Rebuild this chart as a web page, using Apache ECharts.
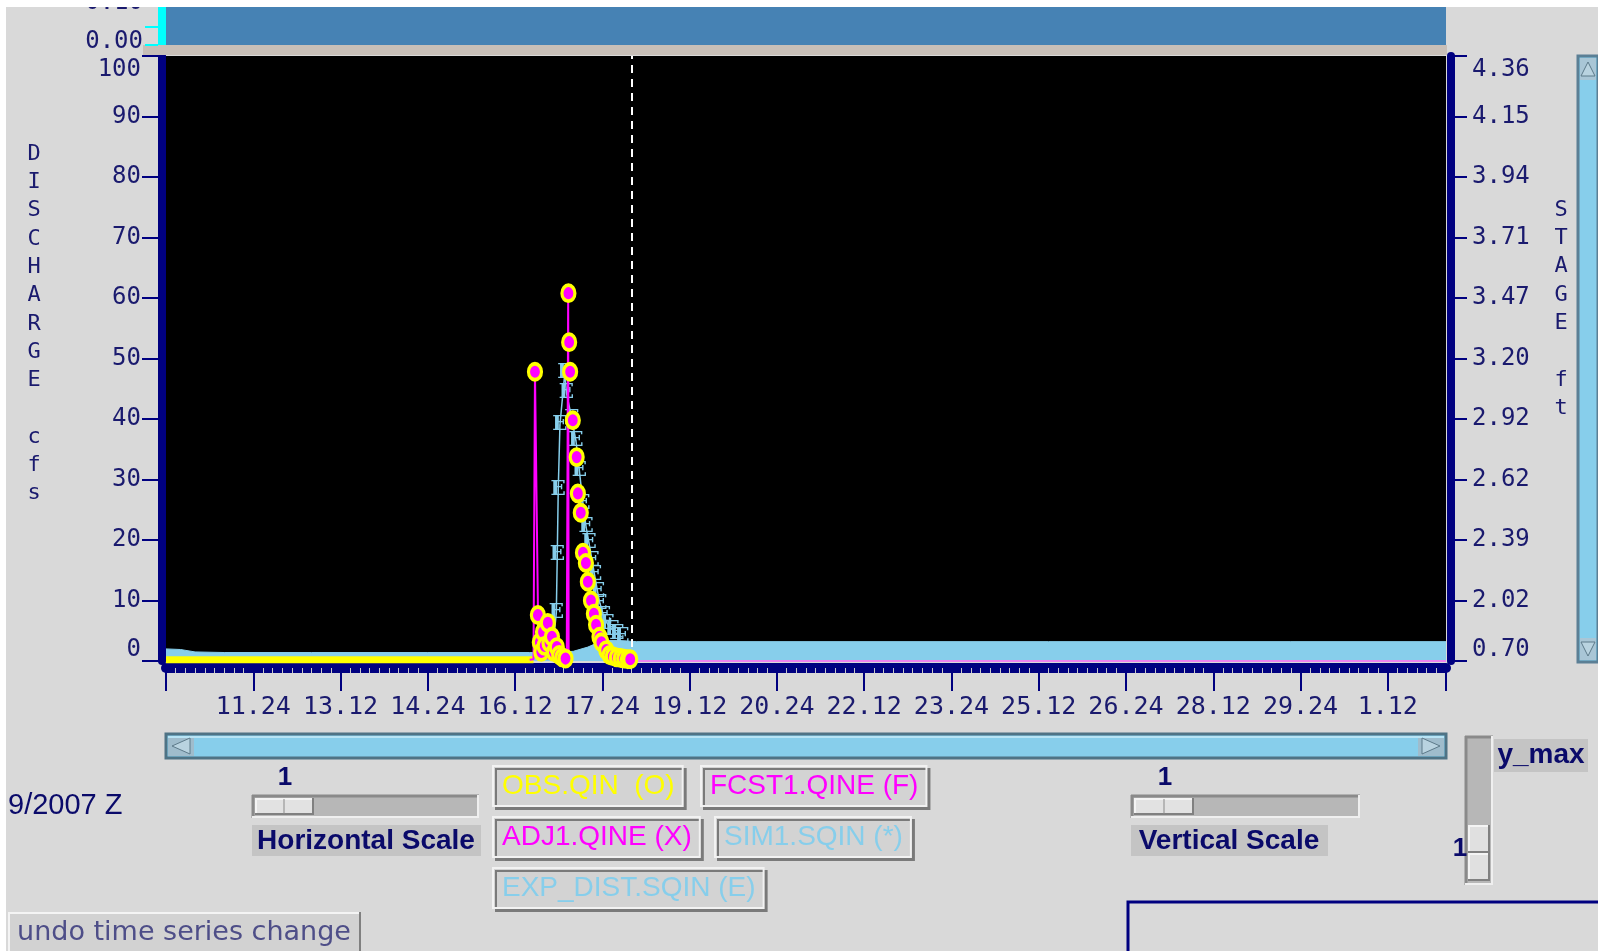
<!DOCTYPE html>
<html><head><meta charset="utf-8">
<script src="https://cdn.jsdelivr.net/npm/echarts/dist/echarts.min.js"></script>
<style>html,body{margin:0;padding:0;background:#fff;overflow:hidden}#c{width:1598px;height:951px}</style>
</head><body><div id="c"></div><script>
// ---- data (time = hours since 9 Sep 00Z) ----
const xTickLabels = ['10.12','11.24','13.12','14.24','16.12','17.24','19.12','20.24','22.12','23.24','25.12','26.24','28.12','29.24','1.12'];
const stageLabels = ['0.70','2.02','2.39','2.62','2.92','3.20','3.47','3.71','3.94','4.15','4.36'];
const nowTime = 228;

const obsBaseTimes  = [36, 48, 60, 72, 84, 96, 108, 120, 132, 144, 156, 168, 180, 187.6];
const obsBaseValues = [0.2, 0.2, 0.2, 0.2, 0.2, 0.2, 0.2, 0.2, 0.2, 0.2, 0.2, 0.2, 0.2, 0.2];

const obsEvtTimes  = [188.2, 189.4, 190.2, 190.8, 191.5, 192.2, 193.5, 194.2, 195.2, 196.0, 197.2, 198.2, 199.5, 200.8,
                      202.0, 202.3, 202.7, 203.8, 205.4, 205.9, 207.1, 208.0, 209.2, 210.0, 211.3, 212.5, 213.4, 214.8,
                      215.6, 217.6, 219.0, 220.3, 222.0, 223.6, 225.0, 226.5, 227.5];
const obsEvtValues = [47.8, 7.6, 3.1, 1.5, 4.8, 2.5, 6.3, 3.0, 4.0, 1.5, 2.3, 1.0, 0.6, 0.4,
                      60.8, 52.7, 47.8, 39.8, 33.7, 27.7, 24.5, 17.9, 16.2, 13.1, 10.0, 7.8, 6.0, 4.0,
                      3.1, 1.8, 1.0, 0.8, 0.6, 0.5, 0.4, 0.3, 0.3];

const adj1Times  = [186.0, 187.6, 188.2, 189.6, 190.5, 201.3, 201.9, 202.1];
const adj1Values = [0.2, 0.3, 47.8, 3.0, 0.5, 0.3, 60.8, 0.5];

const fcst1Times  = [228, 300, 400, 500, 564];
const fcst1Values = [0, 0, 0, 0, 0];

const sim1Times  = [36, 42, 48, 60, 96, 144, 186, 196, 204, 210, 214, 218, 222, 226, 230, 300, 400, 500, 564];
const sim1Values = [2.0, 1.9, 1.5, 1.4, 1.4, 1.4, 1.4, 1.4, 1.6, 2.3, 3.0, 3.4, 3.4, 3.3, 3.2, 3.2, 3.2, 3.2, 3.2];

const expTimes  = [195.5, 197.0, 197.4, 197.8, 198.5, 200.5, 201.2, 203.4, 205.1, 206.5, 208.0, 209.3, 210.5, 211.8,
                   212.8, 214.0, 215.0, 216.5, 218.0, 220.0, 222.0, 224.0];
const expValues = [2.0, 7.9, 17.5, 28.3, 39.0, 47.6, 44.3, 40.0, 36.4, 31.5, 26.0, 22.1, 19.5, 16.5,
                   14.2, 11.5, 9.5, 7.5, 6.2, 5.2, 4.5, 4.0];

const legendItems = [
  {name: 'OBS.QIN  (O)', color: '#ffff00'},
  {name: 'FCST1.QINE (F)', color: '#ff00ff'},
  {name: 'ADJ1.QINE (X)', color: '#ff00ff'},
  {name: 'SIM1.SQIN (*)', color: '#87ceeb'},
  {name: 'EXP_DIST.SQIN (E)', color: '#87ceeb'}
];
const legendPos = [[493, 766], [701, 766], [493, 817], [715, 817], [493, 868]];

const zip = (t, v) => t.map((x, i) => [x, v[i]]);

// ---- styling ----
const NAVY = '#000080';
const TXT = '#1a1a6e';
const MONO = 'DejaVu Sans Mono';
const SANS = 'Liberation Sans';

const G = [];
function rect(x, y, w, h, fill, extra, z) {
  G.push({type: 'rect', silent: true, z: z || 10, shape: {x, y, width: w, height: h},
          style: Object.assign({fill: fill}, extra || {})});
}
function line(x1, y1, x2, y2, stroke, w, z) {
  G.push({type: 'line', silent: true, z: z || 11, shape: {x1, y1, x2, y2}, style: {stroke, lineWidth: w || 1}});
}
function poly(points, fill, z) {
  G.push({type: 'polygon', silent: true, z: z || 12, shape: {points}, style: {fill, stroke: '#5d7a8a', lineWidth: 1}});
}
function text(x, y, t, font, fill, align, valign, extra, z) {
  G.push({type: 'text', silent: true, z: z || 12, x, y,
          style: Object.assign({text: t, font, fill, textAlign: align || 'left', textVerticalAlign: valign || 'middle'}, extra || {})});
}
function bevelIn(x, y, w, h, fill) {
  rect(x, y, w, h, fill);
  line(x, y + 1, x + w, y + 1, '#8a8a8a', 3);
  line(x + 1, y, x + 1, y + h, '#8a8a8a', 3);
  line(x, y + h - 1, x + w, y + h - 1, '#efefef', 2);
  line(x + w - 1, y, x + w - 1, y + h, '#efefef', 2);
}
function bevelOut(x, y, w, h, fill) {
  rect(x, y, w, h, fill);
  line(x, y + 1, x + w, y + 1, '#f4f4f4', 2);
  line(x + 1, y, x + 1, y + h, '#f4f4f4', 2);
  line(x, y + h - 1, x + w, y + h - 1, '#808080', 2);
  line(x + w - 1, y, x + w - 1, y + h, '#808080', 2);
}

// white screenshot margins
rect(0, 0, 1598, 7, '#ffffff', null, 50);
rect(0, 0, 6, 951, '#ffffff', null, 50);
// top strip (empty precipitation panel)
rect(166, 7, 1280, 38, '#4682b4');
rect(143, 45, 1304, 10, '#c8bfb8');
rect(158, 7, 8, 38, '#00ffff');
line(145, 27, 158, 27, '#00ffff', 2);
line(145, 45, 158, 45, '#00ffff', 2);
text(143, 42, '0.00', '24px ' + MONO, TXT, 'right');
text(143, 3, '0.10', '24px ' + MONO, TXT, 'right');
// axis titles
text(34, 140, 'D\nI\nS\nC\nH\nA\nR\nG\nE\n\nc\nf\ns', '22px ' + MONO, TXT, 'center', 'top', {lineHeight: 28.3});
text(1561, 196, 'S\nT\nA\nG\nE\n\nf\nt', '22px ' + MONO, TXT, 'center', 'top', {lineHeight: 28.3});
// right vertical scrollbar
rect(1578, 56, 20, 606, '#87ceeb', {stroke: '#5b7f95', lineWidth: 3});
rect(1580, 58, 16, 22, '#a9c6d6');
poly([[1581, 76], [1588, 62], [1595, 76]], '#b9d3e0');
rect(1580, 638, 16, 22, '#a9c6d6');
poly([[1581, 642], [1588, 656], [1595, 642]], '#b9d3e0');
// horizontal scrollbar
rect(166, 734, 1280, 24, '#87ceeb', {stroke: '#4f7385', lineWidth: 3});
line(168, 737, 1444, 737, '#b8e4f5', 2);
rect(168, 736, 26, 20, '#9fbccc');
poly([[172, 746], [190, 738], [190, 754]], '#b9d3e0');
rect(1418, 736, 26, 20, '#9fbccc');
poly([[1440, 746], [1422, 738], [1422, 754]], '#b9d3e0');
// date fragment
text(8, 806, '9/2007 Z', '29px ' + SANS, '#0a0a6a', 'left');
// horizontal scale slider
text(285, 778, '1', 'bold 26px ' + SANS, '#0a0a6a', 'center');
bevelIn(252, 795, 227, 23, '#b7b7b7');
bevelOut(255, 798, 59, 17, '#e2e2e2');
line(284, 799, 284, 814, '#8a8a8a', 1);
rect(252, 825, 229, 31, '#c4c4c4');
text(366, 841, 'Horizontal Scale', 'bold 28px ' + SANS, '#0a0a6a', 'center');
// vertical scale slider
text(1165, 778, '1', 'bold 26px ' + SANS, '#0a0a6a', 'center');
bevelIn(1131, 795, 229, 23, '#b7b7b7');
bevelOut(1134, 798, 60, 17, '#e2e2e2');
line(1164, 799, 1164, 814, '#8a8a8a', 1);
rect(1131, 825, 197, 31, '#c4c4c4');
text(1229, 841, 'Vertical Scale', 'bold 28px ' + SANS, '#0a0a6a', 'center');
// y_max slider
bevelIn(1465, 736, 28, 149, '#b7b7b7');
bevelOut(1468, 825, 22, 28, '#e0e0e0');
bevelOut(1468, 853, 22, 28, '#e0e0e0');
text(1460, 849, '1', 'bold 26px ' + SANS, '#0a0a6a', 'center');
rect(1494, 739, 94, 33, '#c4c4c4');
text(1541, 755, 'y_max', 'bold 28px ' + SANS, '#0a0a6a', 'center');
// bottom-right frame
rect(1128, 902, 480, 60, 'none', {stroke: NAVY, lineWidth: 3});
// undo button
bevelOut(8, 912, 353, 45, '#d2d2d2');
text(184, 933, 'undo time series change', '27px DejaVu Sans', '#4e4e88', 'center');

const chart = echarts.init(document.getElementById('c'), null, {renderer: 'canvas'});
chart.setOption({
  animation: false,
  backgroundColor: '#d9d9d9',
  grid: {left: 166, right: 152, top: 56, bottom: 290, show: true, backgroundColor: '#000000', borderWidth: 0,
         containLabel: false, outerBoundsMode: 'none'},
  xAxis: {
    type: 'value', min: 36, max: 564, interval: 36, offset: 7,
    axisLine: {show: true, onZero: false, lineStyle: {color: NAVY, width: 10}},
    axisTick: {show: true, length: 23, lineStyle: {color: NAVY, width: 2}},
    minorTick: {show: true, splitNumber: 9, length: 5, lineStyle: {color: '#c8c8c8', width: 1}},
    splitLine: {show: false},
    axisLabel: {show: true, margin: 27, showMinLabel: false, showMaxLabel: false, color: TXT,
                fontFamily: MONO, fontSize: 25,
                formatter: v => { const i = Math.round((v - 36) / 36); return xTickLabels[i] || ''; }}
  },
  yAxis: [
    {
      type: 'value', min: 0, max: 100, interval: 10, position: 'left', offset: 4,
      axisLine: {show: true, onZero: false, lineStyle: {color: NAVY, width: 8}},
      axisTick: {show: true, length: 20, lineStyle: {color: NAVY, width: 2}},
      splitLine: {show: false},
      axisLabel: {show: true, margin: 21, color: TXT, fontFamily: MONO, fontSize: 24,
        formatter: v => v === 100 ? '{t|100}' : (v === 0 ? '{b|0}' : String(v)),
        rich: {t: {padding: [27, 0, 0, 0], fontFamily: MONO, fontSize: 24, color: TXT},
               b: {padding: [0, 0, 22, 0], fontFamily: MONO, fontSize: 24, color: TXT}}}
    },
    {
      type: 'value', min: 0, max: 100, interval: 10, position: 'right', offset: 5,
      axisLine: {show: true, onZero: false, lineStyle: {color: NAVY, width: 8}},
      axisTick: {show: true, length: 16, lineStyle: {color: NAVY, width: 2}},
      splitLine: {show: false},
      axisLabel: {show: true, margin: 21, color: TXT, fontFamily: MONO, fontSize: 24,
        formatter: v => { const s = stageLabels[Math.round(v / 10)] || '';
          return v === 100 ? '{t|' + s + '}' : (v === 0 ? '{b|' + s + '}' : s); },
        rich: {t: {padding: [27, 0, 0, 0], fontFamily: MONO, fontSize: 24, color: TXT},
               b: {padding: [0, 0, 22, 0], fontFamily: MONO, fontSize: 24, color: TXT}}}
    }
  ],
  legend: legendItems.map((d, i) => ({
    left: legendPos[i][0], top: legendPos[i][1], selectedMode: false,
    data: [{name: d.name, icon: 'rect', textStyle: {color: d.color}}],
    itemWidth: 0, itemHeight: 0, padding: [6, 8, 6, 4],
    backgroundColor: '#d3d3d3', borderColor: '#f2f2f2', borderWidth: 2,
    shadowColor: '#7a7a7a', shadowOffsetX: 3, shadowOffsetY: 3, shadowBlur: 0,
    textStyle: {fontFamily: SANS, fontSize: 28, color: d.color}
  })),
  graphic: {elements: G},
  series: [
    {name: 'SIM1.SQIN (*)', type: 'line', data: zip(sim1Times, sim1Values), symbol: 'none',
     itemStyle: {color: '#87ceeb'}, lineStyle: {color: '#87ceeb', width: 1},
     areaStyle: {color: '#87ceeb', opacity: 1}, z: 2},
    {name: 'OBS.QIN  (O)', type: 'line', data: zip(obsBaseTimes, obsBaseValues), symbol: 'none',
     itemStyle: {color: '#ffff00'}, lineStyle: {color: '#ffff00', width: 7}, z: 3},
    {name: 'EXP_DIST.SQIN (E)', type: 'line', data: zip(expTimes, expValues), symbol: 'circle', symbolSize: 1,
     itemStyle: {color: '#87ceeb'}, lineStyle: {color: '#87ceeb', width: 1.5},
     label: {show: true, position: 'inside', formatter: 'E', color: '#87ceeb', fontSize: 20,
             fontWeight: 'bold', fontFamily: 'DejaVu Serif'}, z: 4},
    {name: 'ADJ1.QINE (X)', type: 'line', data: zip(adj1Times, adj1Values), symbol: 'none',
     itemStyle: {color: '#ff00ff'}, lineStyle: {color: '#ff00ff', width: 2}, z: 5,
     markLine: {silent: true, symbol: ['none', 'none'], label: {show: false},
                lineStyle: {color: '#ffffff', type: [8, 6], width: 2}, data: [{xAxis: nowTime}]}},
    {name: 'FCST1.QINE (F)', type: 'line', data: zip(fcst1Times, fcst1Values), symbol: 'none',
     itemStyle: {color: '#ff00ff'}, lineStyle: {color: '#ee82ee', width: 2}, z: 5},
    {name: 'OBS.QIN  (O)', type: 'scatter', data: zip(obsEvtTimes, obsEvtValues), symbol: 'circle',
     symbolSize: [13, 16], itemStyle: {color: '#ff00ff', borderColor: '#ffff00', borderWidth: 3.5, opacity: 1}, z: 6}
  ]
});
</script></body></html>
